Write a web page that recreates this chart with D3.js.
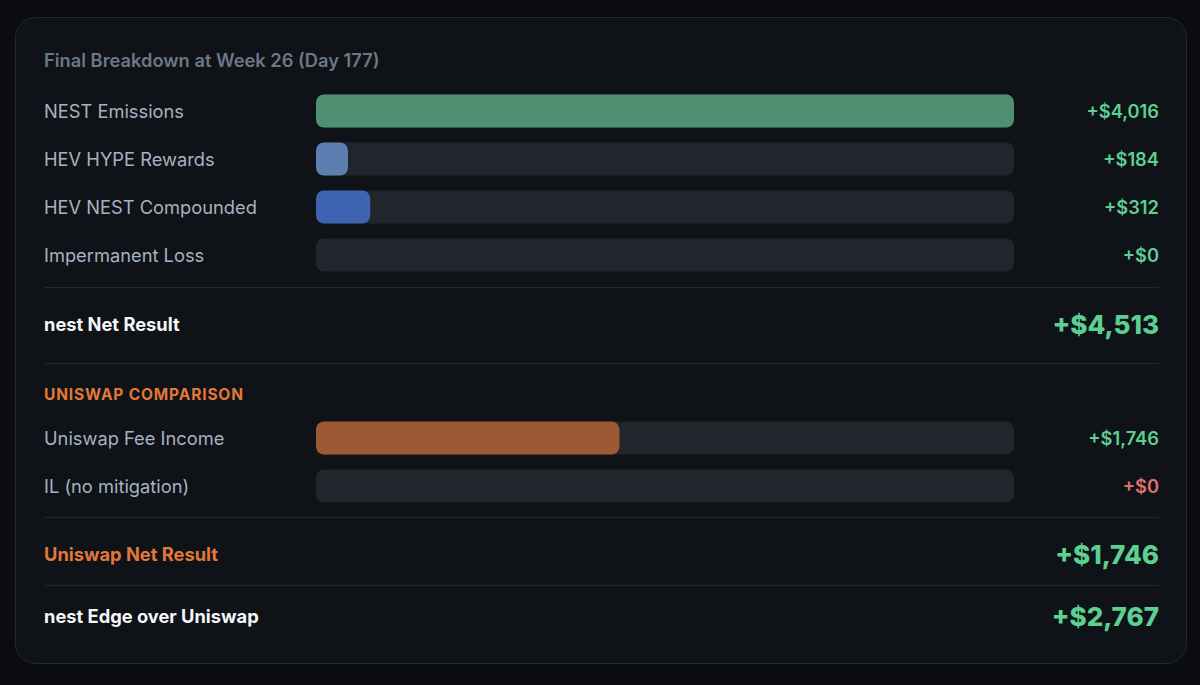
<!DOCTYPE html>
<html><head><meta charset="utf-8">
<script src="https://cdn.jsdelivr.net/npm/d3@7"></script>
<style>
html,body{margin:0;padding:0;background:#0a0c10;}
svg{display:block;font-family:Inter,"Noto Sans",sans-serif;}
</style></head>
<body><svg id="c" width="1200" height="685"></svg>
<script>
const title = "Final Breakdown at Week 26 (Day 177)";
const nestLabels = ["NEST Emissions","HEV HYPE Rewards","HEV NEST Compounded","Impermanent Loss"];
const nestValues = [4016,184,312,0];
const nestColors = ["#4f8f72","#5b7fb0","#3e63b0","#4a4f58"];
const uniLabels = ["Uniswap Fee Income","IL (no mitigation)"];
const uniValues = [1746,0];
const uniColors = ["#9b5a33","#4a4f58"];
const uniValueColors = ["#5ccf92","#e07070"];
const nestNet = 4513, uniNet = 1746, edge = 2767;

const svg = d3.select("#c");
svg.append("rect").attr("x",15.5).attr("y",17.5).attr("width",1171).attr("height",646)
  .attr("rx",20).attr("fill","#0f1216").attr("stroke","#252a31").attr("stroke-width",1);

const x = d3.scaleLinear().domain([0, d3.max(nestValues.concat(uniValues))]).range([316,1014]);
const fmt = v => "+$" + d3.format(",")(v);
const L = 44, R = 1159, barH = 33;

svg.append("text").attr("x",L).attr("y",61).attr("dy","0.35em").attr("fill","#6b7888")
  .attr("font-size",18.3).attr("font-weight",600).text(title);

function rows(labels, values, colors, y0, valColors){
  labels.forEach((lab,i)=>{
    const cy = y0 + i*48;
    svg.append("text").attr("x",L).attr("y",cy+1).attr("dy","0.35em").attr("fill","#a6b3c2")
      .attr("font-size",18.3).text(lab);
    svg.append("rect").attr("x",x(0)).attr("y",cy-barH/2).attr("width",x.range()[1]-x(0)).attr("height",barH)
      .attr("rx",8).attr("fill","#21262d");
    if(values[i]>0) svg.append("rect").attr("x",x(0)).attr("y",cy-barH/2).attr("width",x(values[i])-x(0)).attr("height",barH)
      .attr("rx",8).attr("fill",colors[i]);
    svg.append("text").attr("x",R).attr("y",cy+1).attr("dy","0.35em").attr("text-anchor","end")
      .attr("fill",valColors?valColors[i]:"#5ccf92").attr("font-size",18.3).attr("font-weight",600).text(fmt(values[i]));
  });
}
rows(nestLabels,nestValues,nestColors,111);
function sep(y){svg.append("line").attr("x1",L).attr("x2",R).attr("y1",y+0.5).attr("y2",y+0.5).attr("stroke","#22272e").attr("stroke-width",1);}
function result(label,val,y,col){
  svg.append("text").attr("x",L).attr("y",y+1).attr("dy","0.35em").attr("fill",col).attr("font-size",18.3).attr("font-weight",700).text(label);
  svg.append("text").attr("x",R).attr("y",y+1).attr("dy","0.35em").attr("text-anchor","end").attr("fill","#5ccf92")
    .attr("font-size",26).attr("font-weight",800).text(fmt(val));
}
sep(287);
result("nest Net Result",nestNet,324,"#f4f6f8");
sep(363);
svg.append("text").attr("x",L).attr("y",395).attr("dy","0.35em").attr("fill","#e2783a").attr("font-size",15.5)
  .attr("font-weight",700).attr("letter-spacing",0.85).text("UNISWAP COMPARISON");
rows(uniLabels,uniValues,uniColors,438,uniValueColors);
sep(517);
result("Uniswap Net Result",uniNet,554,"#e2783a");
sep(585);
result("nest Edge over Uniswap",edge,616,"#f4f6f8");
</script></body></html>
